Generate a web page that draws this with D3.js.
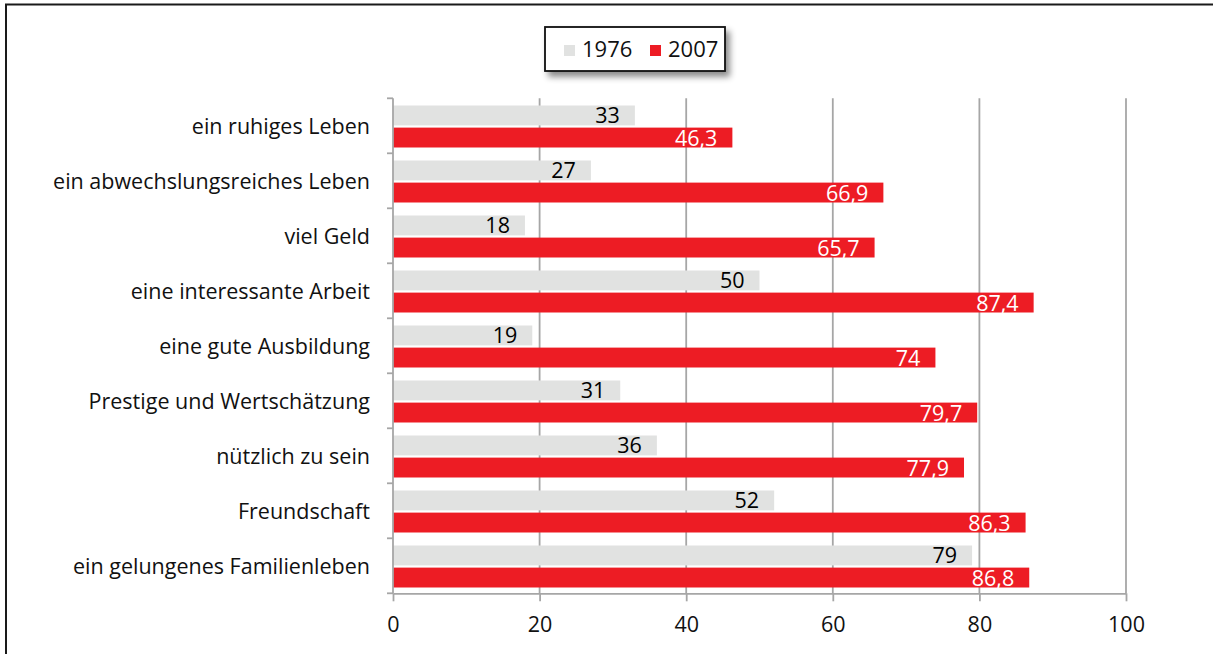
<!DOCTYPE html>
<html>
<head>
<meta charset="utf-8">
<script src="https://cdn.jsdelivr.net/npm/d3@7"></script>
<style>
  body { margin: 0; background: #fff; }
  svg { display: block; font-family: "Open Sans", "DejaVu Sans", sans-serif; }
</style>
</head>
<body>
<svg id="chart" width="1213" height="654"></svg>
<script>
'use strict'

var categories = [
  "ein ruhiges Leben",
  "ein abwechslungsreiches Leben",
  "viel Geld",
  "eine interessante Arbeit",
  "eine gute Ausbildung",
  "Prestige und Wertschätzung",
  "nützlich zu sein",
  "Freundschaft",
  "ein gelungenes Familienleben"
];
var seriesNames = ["1976", "2007"];
var values1976 = [33, 27, 18, 50, 19, 31, 36, 52, 79];
var values2007 = [46.3, 66.9, 65.7, 87.4, 74, 79.7, 77.9, 86.3, 86.8];
var xTicks = [0, 20, 40, 60, 80, 100];

var colors = { "1976": "#e1e2e1", "2007": "#ed1c24" };
var labelColors = { "1976": "#000", "2007": "#fff" };

var svg = d3.select("#chart");

var x = d3.scaleLinear().domain([0, 100]).range([393, 1126]);
var y = d3.scaleBand().domain(categories).range([98.3, 593.3]).padding(0);
var ySub = d3.scaleBand().domain(seriesNames).range([7.2, 49.2]).paddingInner(0.1);

var fmt = function(v) { return String(v).replace(".", ","); };

// outer frame (cut by the picture on the right and bottom)
svg.append("path")
    .attr("d", "M6,654 V4.5 H1213")
    .attr("fill", "none")
    .attr("stroke", "#1a1a1a")
    .attr("stroke-width", 2);

// vertical gridlines
svg.append("g")
    .selectAll("line")
    .data(xTicks.filter(function(t) { return t > 0; }))
    .join("line")
    .attr("x1", function(d) { return x(d); })
    .attr("x2", function(d) { return x(d); })
    .attr("y1", y.range()[0])
    .attr("y2", y.range()[1])
    .attr("stroke", "#a6a6a6")
    .attr("stroke-width", 1.8);

// bars
var rows = categories.map(function(c, i) {
  return { cat: c, vals: [
    { key: "1976", v: values1976[i] },
    { key: "2007", v: values2007[i] }
  ] };
});

var groups = svg.append("g")
    .selectAll("g")
    .data(rows)
    .join("g")
    .attr("transform", function(d) { return "translate(0," + y(d.cat) + ")"; });

groups.selectAll("rect")
    .data(function(d) { return d.vals; })
    .join("rect")
    .attr("x", x(0))
    .attr("y", function(d) { return ySub(d.key); })
    .attr("width", function(d) { return x(d.v) - x(0); })
    .attr("height", ySub.bandwidth())
    .attr("fill", function(d) { return colors[d.key]; });

groups.selectAll("text")
    .data(function(d) { return d.vals; })
    .join("text")
    .attr("x", function(d) { return x(d.v) - 15; })
    .attr("y", function(d) { return ySub(d.key) + ySub.bandwidth() / 2 + 8; })
    .attr("text-anchor", "end")
    .attr("font-size", 21.5)
    .attr("fill", function(d) { return labelColors[d.key]; })
    .text(function(d) { return fmt(d.v); });

// left axis line with ticks between categories
var axisColor = "#a6a6a6";
var leftAxis = svg.append("g");
leftAxis.append("line")
    .attr("x1", x(0)).attr("x2", x(0))
    .attr("y1", y.range()[0]).attr("y2", y.range()[1])
    .attr("stroke", axisColor).attr("stroke-width", 1.8);
leftAxis.selectAll("line.tick")
    .data(categories.map(function(c) { return y(c); }).concat([y.range()[1]]))
    .join("line")
    .attr("class", "tick")
    .attr("x1", x(0) - 6).attr("x2", x(0))
    .attr("y1", function(d) { return d; })
    .attr("y2", function(d) { return d; })
    .attr("stroke", axisColor).attr("stroke-width", 1.8);

leftAxis.selectAll("text")
    .data(categories)
    .join("text")
    .attr("x", 370)
    .attr("y", function(d) { return y(d) + y.bandwidth() / 2 + 8; })
    .attr("text-anchor", "end")
    .attr("font-size", 21.5)
    .attr("fill", "#111")
    .text(function(d) { return d; });

// bottom axis
var bottom = svg.append("g")
    .attr("transform", "translate(0," + y.range()[1] + ")")
    .call(d3.axisBottom(x).tickValues(xTicks).tickSize(8).tickPadding(15).tickSizeOuter(0));
bottom.select(".domain").attr("stroke", axisColor).attr("stroke-width", 1.8);
bottom.selectAll(".tick line").attr("stroke", axisColor).attr("stroke-width", 1.8);
bottom.selectAll(".tick text")
    .attr("font-size", 21.5)
    .attr("font-family", "'Open Sans', sans-serif")
    .attr("fill", "#111");

// legend
var defs = svg.append("defs");
var f = defs.append("filter").attr("id", "shadow")
    .attr("x", "-10%").attr("y", "-20%").attr("width", "130%").attr("height", "160%");
f.append("feDropShadow")
    .attr("dx", 4).attr("dy", 5).attr("stdDeviation", 3)
    .attr("flood-color", "#000").attr("flood-opacity", 0.45);

var legend = svg.append("g").attr("transform", "translate(545,27)");
legend.append("rect")
    .attr("width", 180).attr("height", 44)
    .attr("fill", "#fff")
    .attr("stroke", "#111")
    .attr("stroke-width", 1.8)
    .attr("filter", "url(#shadow)");

var legendX = d3.scaleOrdinal().domain(seriesNames).range([19, 105]);
var items = legend.selectAll("g.item")
    .data(seriesNames)
    .join("g")
    .attr("class", "item")
    .attr("transform", function(d) { return "translate(" + legendX(d) + ",0)"; });
items.append("rect")
    .attr("y", 18).attr("width", 11).attr("height", 11)
    .attr("fill", function(d) { return colors[d]; });
items.append("text")
    .attr("x", 18).attr("y", 30)
    .attr("font-size", 22)
    .attr("fill", "#111")
    .text(function(d) { return d; });
</script>
</body>
</html>
